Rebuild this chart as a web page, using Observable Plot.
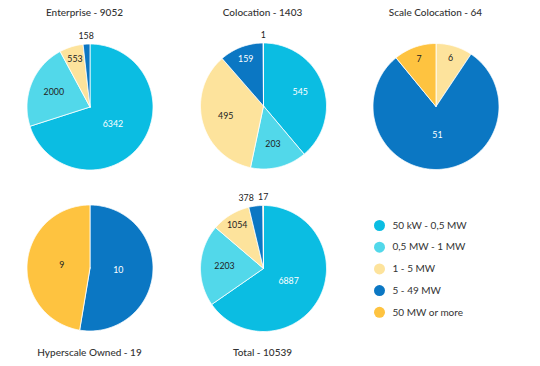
<!DOCTYPE html>
<html><head><meta charset="utf-8">
<script src="https://cdn.jsdelivr.net/npm/d3@7"></script>
<script src="https://cdn.jsdelivr.net/npm/@observablehq/plot@0.6"></script>
<style>html,body{margin:0;padding:0;background:#fff;} #chart svg{display:block;}</style>
</head><body><div id="chart"></div>
<script>
const categories = ["50 kW - 0,5 MW", "0,5 MW - 1 MW", "1 - 5 MW", "5 - 49 MW", "50 MW or more"];
const colors = ["#0BBDE2", "#52D8EA", "#FDE39C", "#0B77C3", "#FEC340"];
const pieNames = ["Enterprise", "Colocation", "Scale Colocation", "Hyperscale Owned", "Total"];
const pieTotals = [9052, 1403, 64, 19, 10539];
const enterprise = [6342, 2000, 553, 158, 0];
const colocation = [545, 203, 495, 159, 1];
const scaleColocation = [0, 0, 6, 51, 7];
const hyperscaleOwned = [0, 0, 0, 10, 9];
const total = [6887, 2203, 1054, 378, 17];

const series = [enterprise, colocation, scaleColocation, hyperscaleOwned, total];
const layout = {
  cx: [89.5, 263, 435.5, 89.5, 263],
  cy: [106.5, 105.5, 106, 267.5, 268],
  r: 63,
  titleX: [84, 262, 435, 89, 262],
  titleY: [12, 12, 12, 352, 352],
  legendX: 379, legendY: 225, legendStep: 21.7
};

const pie = d3.pie().sort(null).value(d => d.value);
const slicePts = [], labels = [], titles = [];
series.forEach((vals, p) => {
  const rows = vals.map((value, i) => ({value, cat: categories[i], i}));
  const sum = d3.sum(vals);
  const arcs = pie(rows).filter(a => a.data.value > 0);
  const cx = layout.cx[p], cy = layout.cy[p], r = layout.r;
  const outside = [];
  arcs.forEach(a => {
    const id = p + "-" + a.data.i;
    slicePts.push({id, cat: a.data.cat, x: cx, y: cy});
    const n = Math.max(2, Math.ceil((a.endAngle - a.startAngle) / (Math.PI / 180)));
    for (let k = 0; k <= n; k++) {
      const t = a.startAngle + (a.endAngle - a.startAngle) * k / n;
      slicePts.push({id, cat: a.data.cat, x: cx + r * Math.sin(t), y: cy - r * Math.cos(t)});
    }
    slicePts.push({id, cat: a.data.cat, x: cx, y: cy});
    const f = a.data.value / sum;
    const mid = (a.startAngle + a.endAngle) / 2;
    const out = f < 0.04;
    const rho = out ? r + 8 : r * (f < 0.12 ? 0.8 : f < 0.45 ? 0.62 : 0.45);
    const lab = {
      text: String(a.data.value),
      x: cx + rho * Math.sin(mid),
      y: cy - rho * Math.cos(mid),
      light: !out && (a.data.i === 0 || a.data.i === 3)
    };
    labels.push(lab);
    if (out) outside.push(lab);
  });
  outside.sort((a, b) => b.x - a.x);
  for (let k = 1; k < outside.length; k++) {
    const right = outside[k - 1], left = outside[k];
    const minSep = (right.text.length + left.text.length) * 2.4 + 5;
    if (right.x - left.x < minSep) left.x = right.x - minSep;
  }
  titles.push({text: `${pieNames[p]} - ${pieTotals[p]}`, x: layout.titleX[p], y: layout.titleY[p]});
});

const chart = Plot.plot({
  width: 540, height: 366, margin: 0,
  x: {domain: [0, 540], range: [0, 540], axis: null},
  y: {domain: [0, 366], range: [0, 366], axis: null},
  color: {domain: categories, range: colors},
  style: {fontFamily: "Lato, sans-serif", background: "#fff"},
  marks: [
    Plot.line(slicePts, {x: "x", y: "y", z: "id", fill: "cat", stroke: "#fff", strokeWidth: 0.8, strokeLinejoin: "round", curve: "linear"}),
    Plot.text(labels.filter(d => d.light), {x: "x", y: "y", text: "text", fill: "#fff", fontSize: 8.8, textAnchor: "middle", lineAnchor: "middle"}),
    Plot.text(labels.filter(d => !d.light), {x: "x", y: "y", text: "text", fill: "#222", fontSize: 8.8, textAnchor: "middle", lineAnchor: "middle"}),
    Plot.text(titles, {x: "x", y: "y", text: "text", fill: "#333", fontSize: 10, fontWeight: 500, textAnchor: "middle", lineAnchor: "middle"}),
    Plot.dot(categories, {x: () => layout.legendX, y: (d, i) => layout.legendY + i * layout.legendStep, r: 5.5, fill: d => d, stroke: null}),
    Plot.text(categories, {x: () => layout.legendX + 13, y: (d, i) => layout.legendY + i * layout.legendStep, text: d => d, fill: "#333", fontSize: 10, textAnchor: "start", lineAnchor: "middle"})
  ]
});
document.getElementById("chart").appendChild(chart);
</script>
</body></html>
